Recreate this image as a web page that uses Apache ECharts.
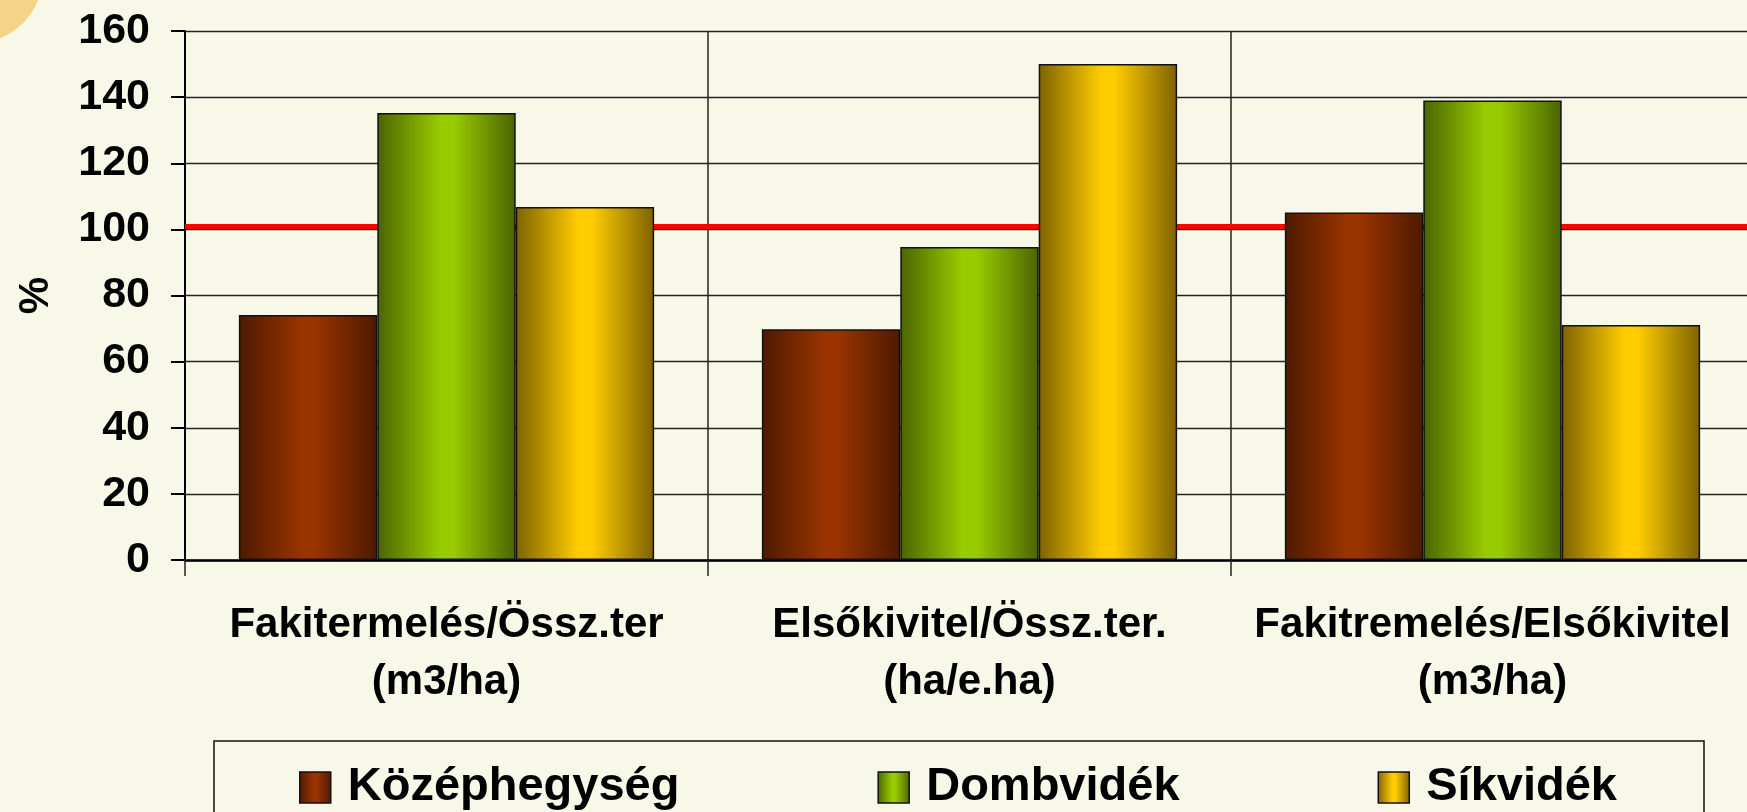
<!DOCTYPE html>
<html>
<head>
<meta charset="utf-8">
<title>Fakitermelés / Elsőkivitel</title>
<script src="https://cdn.jsdelivr.net/npm/echarts@6/dist/echarts.min.js"></script>
<style>
	html, body { margin: 0; padding: 0; background: #f8f8e8; }
	#chart { width: 1747px; height: 812px; }
</style>
</head>
<body>
<div id="chart"></div>
<script>
	//adatok
	var categories = [
		'Fakitermelés/Össz.ter\n(m3/ha)',
		'Elsőkivitel/Össz.ter.\n(ha/e.ha)',
		'Fakitremelés/Elsőkivitel\n(m3/ha)'
	];
	var seriesNames = ['Középhegység', 'Dombvidék', 'Síkvidék'];
	var kozephegyseg = [74.1, 69.8, 105.1];
	var dombvidek = [135.2, 94.7, 139.0];
	var sikvidek = [106.8, 150.0, 71.1];
	var yMin = 0, yMax = 160, yStep = 20;
	var referenceLine = 101;		//piros vonal (100% körül)

	var font = 'Arial, "Liberation Sans", sans-serif';

	//vízszintes színátmenet: sötét szél, világos közép
	function barColor(dark, light) {
		return new echarts.graphic.LinearGradient(0, 0, 1, 0, [
			{ offset: 0, color: dark },
			{ offset: 0.45, color: light },
			{ offset: 0.55, color: light },
			{ offset: 1, color: dark }
		]);
	}

	function barSeries(name, data, dark, light) {
		return {
			name: name,
			type: 'bar',
			data: data,
			barGap: '0%',
			barCategoryGap: '20.6%',
			itemStyle: {
				color: barColor(dark, light),
				borderColor: '#111',
				borderWidth: 1.5
			}
		};
	}

	var chart = echarts.init(document.getElementById('chart'));

	var series = [
		barSeries(seriesNames[0], kozephegyseg, '#4d1a00', '#993300'),
		barSeries(seriesNames[1], dombvidek, '#4a6400', '#99cc00'),
		barSeries(seriesNames[2], sikvidek, '#7d6200', '#ffcc00')
	];

	series[0].markLine = {
		silent: true,
		symbol: 'none',
		z: 1,
		label: { show: false },
		lineStyle: { color: '#ff0000', width: 5, type: 'solid' },
		data: [{ yAxis: referenceLine }]
	};

	chart.setOption({
		backgroundColor: '#f8f8e8',
		animation: false,
		textStyle: { fontFamily: font },
		graphic: [{
			type: 'circle',
			shape: { cx: -25, cy: -25, r: 68 },
			style: { fill: '#f4d488' },
			z: -1
		}],
		grid: {
			left: 185,
			top: 31,
			width: 1569,
			height: 529,
			outerBoundsMode: 'none'
		},
		legend: {
			data: seriesNames,
			left: 214,
			top: 741,
			padding: [23, 87, 30, 85],
			itemGap: 198,
			itemWidth: 31,
			itemHeight: 31,
			icon: 'rect',
			borderColor: '#111',
			borderWidth: 1.5,
			itemStyle: { borderColor: '#111', borderWidth: 1.5 },
			textStyle: {
				fontFamily: font,
				fontSize: 47,
				fontWeight: 'bold',
				color: '#000',
				lineHeight: 31,
				padding: [0, 0, 0, 12]
			}
		},
		xAxis: {
			type: 'category',
			data: categories,
			axisLine: { lineStyle: { color: '#000', width: 2.5 } },
			axisTick: { show: true, length: 16, lineStyle: { color: '#222', width: 1.5 } },
			splitLine: { show: true, lineStyle: { color: '#222', width: 1.5 } },
			axisLabel: {
				interval: 0,
				margin: 37,
				fontFamily: font,
				fontSize: 42,
				fontWeight: 'bold',
				lineHeight: 57,
				color: '#000'
			}
		},
		yAxis: {
			type: 'value',
			min: yMin,
			max: yMax,
			interval: yStep,
			name: '%',
			nameLocation: 'middle',
			nameRotate: 90,
			nameGap: 128,
			nameTextStyle: {
				fontFamily: font,
				fontSize: 42,
				fontWeight: 'bold',
				color: '#000'
			},
			axisLine: { show: true, lineStyle: { color: '#000', width: 2 } },
			axisTick: { show: true, length: 14, lineStyle: { color: '#000', width: 2 } },
			splitLine: { show: true, lineStyle: { color: '#222', width: 1.3 } },
			axisLabel: {
				margin: 35,
				fontFamily: font,
				fontSize: 43,
				fontWeight: 'bold',
				color: '#000'
			}
		},
		series: series
	});
</script>
</body>
</html>
